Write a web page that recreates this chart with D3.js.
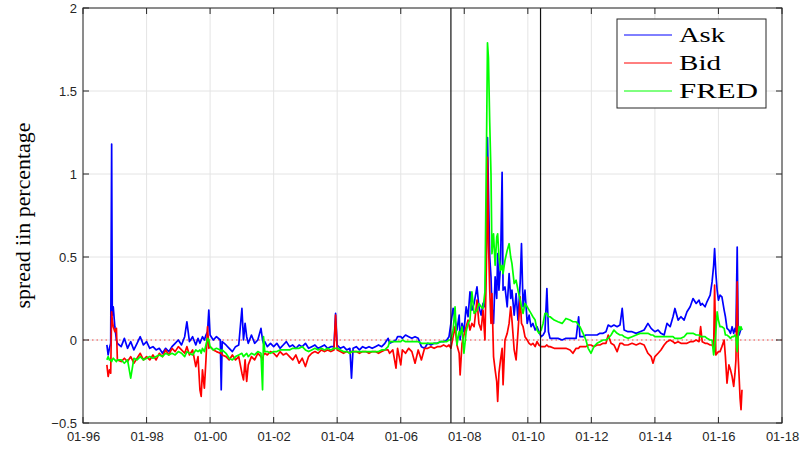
<!DOCTYPE html>
<html><head><meta charset="utf-8">
<script src="https://cdn.jsdelivr.net/npm/d3@7"></script>
<style>body{margin:0;background:#fff}svg{display:block}</style>
</head><body><svg id="c" width="803" height="450"></svg>
<script>
// decimal years
const dates = [1996.75,1996.79,1996.83,1996.87,1996.90,1996.92,1996.95,1997.00,1997.05,1997.08,
1997.2,1997.3,1997.4,1997.5,1997.6,1997.7,1997.8,1997.9,1998.0,1998.1,1998.2,1998.3,1998.4,1998.5,1998.6,1998.7,1998.8,1998.9,
1999.0,1999.1,1999.2,1999.27,1999.35,1999.45,1999.55,1999.62,1999.68,1999.72,1999.76,1999.82,1999.87,1999.92,1999.96,
2000.0,2000.1,2000.2,2000.32,2000.35,2000.38,2000.5,2000.6,2000.7,2000.8,2000.9,
2001.0,2001.05,2001.1,2001.15,2001.2,2001.3,2001.4,2001.5,2001.6,2001.65,2001.68,2001.72,2001.8,2001.9,
2002.0,2002.1,2002.2,2002.3,2002.4,2002.5,2002.6,2002.7,2002.8,2002.9,
2003.0,2003.1,2003.2,2003.3,2003.4,2003.5,2003.6,2003.7,2003.8,2003.9,2003.95,
2004.0,2004.1,2004.2,2004.3,2004.4,2004.45,2004.5,2004.6,2004.7,2004.8,2004.9,
2005.0,2005.1,2005.2,2005.3,2005.4,2005.5,2005.6,2005.65,2005.75,2005.85,2005.9,
2006.0,2006.05,2006.15,2006.25,2006.35,2006.45,2006.55,2006.65,2006.75,2006.85,2006.95,
2007.05,2007.15,2007.25,2007.35,2007.45,2007.52,
2007.58,2007.65,2007.71,2007.77,2007.84,2007.87,2007.93,2007.99,2008.06,2008.12,2008.18,2008.24,2008.31,2008.40,2008.46,2008.53,2008.59,2008.65,
2008.70,2008.73,2008.76,2008.80,2008.84,2008.87,2008.92,2008.97,2009.02,2009.05,2009.09,2009.14,2009.19,2009.22,2009.28,2009.35,2009.41,2009.46,2009.50,
2009.57,2009.63,2009.69,2009.76,2009.80,2009.85,2009.91,2009.98,2010.04,2010.10,2010.16,2010.23,2010.29,2010.35,2010.42,2010.48,2010.54,2010.60,2010.65,2010.70,
2010.83,2010.95,2011.08,2011.20,2011.33,2011.42,2011.52,2011.60,2011.64,2011.74,2011.83,2011.90,2011.99,
2012.08,2012.18,2012.27,2012.37,2012.46,2012.53,2012.62,2012.71,2012.81,2012.90,2012.97,
2013.03,2013.15,2013.28,2013.41,2013.53,2013.66,2013.78,2013.88,2013.94,
2014.00,2014.10,2014.19,2014.29,2014.38,2014.48,2014.57,2014.63,2014.73,2014.82,2014.92,
2015.01,2015.11,2015.20,2015.30,2015.39,2015.44,2015.49,2015.58,2015.64,2015.74,2015.80,2015.85,2015.88,2015.92,2015.96,
2016.00,2016.05,2016.11,2016.18,2016.22,2016.27,2016.33,2016.38,2016.43,2016.48,2016.52,2016.55,2016.59,2016.62,2016.65,2016.68,2016.71,2016.74];

const ask = [-0.03,-0.09,-0.05,-0.02,1.18,0.15,0.20,0.08,0.00,-0.02,
-0.04,0.01,-0.05,-0.01,-0.06,-0.02,0.02,-0.03,-0.01,-0.05,-0.04,-0.06,-0.05,-0.08,-0.05,-0.07,-0.04,-0.02,
0.00,-0.03,0.02,0.11,-0.01,0.02,-0.03,0.01,-0.02,0.00,0.02,0.00,0.03,0.05,0.18,
0.03,0.00,0.02,0.00,-0.30,-0.01,-0.03,-0.05,-0.07,-0.04,-0.03,
0.19,0.00,0.10,0.02,-0.02,0.03,-0.02,0.00,0.07,0.00,-0.02,-0.01,-0.04,-0.02,
-0.04,-0.02,-0.05,-0.03,-0.01,-0.04,-0.03,-0.05,-0.03,-0.04,
-0.02,-0.05,-0.04,-0.03,-0.05,-0.04,-0.03,-0.05,-0.04,-0.04,0.16,
-0.03,-0.05,-0.04,-0.06,-0.05,-0.23,-0.05,-0.04,-0.06,-0.04,-0.05,
-0.04,-0.05,-0.04,-0.03,-0.04,-0.02,0.01,-0.02,-0.01,0.00,0.02,
0.02,0.01,0.03,0.02,0.01,0.02,0.01,-0.04,-0.05,-0.02,-0.03,
-0.02,-0.02,-0.01,-0.01,0.00,0.02,
0.10,0.19,0.12,0.06,0.15,0.00,0.10,0.05,0.20,0.14,0.29,0.18,0.22,0.32,0.20,0.15,0.22,0.20,
0.60,1.22,0.90,0.50,0.38,0.20,0.10,0.38,0.25,0.52,0.30,0.45,1.01,0.30,0.32,0.20,0.40,0.25,0.30,
0.15,0.28,0.12,0.35,0.58,0.20,0.30,0.10,0.15,0.08,0.10,0.06,0.08,0.05,0.02,0.03,0.05,0.31,0.05,0.01,
0.01,0.01,0.00,0.01,0.01,0.01,0.01,0.14,0.02,0.02,0.03,0.03,0.03,
0.03,0.03,0.04,0.04,0.05,0.09,0.08,0.09,0.08,0.09,0.19,
0.06,0.05,0.05,0.04,0.05,0.06,0.10,0.07,0.06,
0.05,0.06,0.04,0.03,0.10,0.08,0.14,0.19,0.12,0.14,0.12,
0.17,0.20,0.25,0.22,0.24,0.21,0.22,0.20,0.23,0.27,0.35,0.45,0.55,0.40,0.30,
0.24,0.27,0.26,0.18,0.14,0.07,0.06,0.04,0.08,0.04,0.07,0.05,0.56,0.05,0.03,0.05,0.07,0.06];

const bid = [-0.15,-0.22,-0.18,-0.20,0.17,0.12,0.08,0.05,0.07,-0.12,
-0.13,-0.11,-0.13,-0.10,-0.14,-0.11,-0.08,-0.12,-0.10,-0.12,-0.09,-0.12,-0.08,-0.10,-0.06,-0.09,-0.05,-0.07,
-0.04,-0.06,-0.08,-0.04,-0.09,-0.06,-0.16,-0.10,-0.30,-0.34,-0.18,-0.29,-0.12,0.08,-0.05,
-0.04,-0.06,-0.07,-0.08,-0.07,-0.09,-0.10,-0.12,-0.09,-0.12,-0.10,
-0.20,-0.24,-0.12,-0.25,-0.15,-0.10,-0.12,-0.08,-0.10,-0.12,-0.09,-0.08,-0.09,-0.07,
-0.08,-0.10,-0.07,-0.09,-0.08,-0.10,-0.12,-0.09,-0.14,-0.11,
-0.16,-0.10,-0.08,-0.07,-0.08,-0.06,-0.07,-0.06,-0.07,-0.06,0.15,
-0.06,-0.07,-0.08,-0.07,-0.08,-0.07,-0.07,-0.07,-0.08,-0.07,-0.07,
-0.08,-0.07,-0.07,-0.08,-0.07,-0.06,-0.06,-0.08,-0.06,-0.17,-0.05,
-0.15,-0.06,-0.08,-0.05,-0.07,-0.14,-0.06,-0.12,-0.05,-0.05,-0.04,
-0.05,-0.04,-0.04,-0.03,-0.04,-0.03,
-0.05,0.02,0.08,-0.03,-0.08,-0.21,-0.02,0.03,0.08,0.12,0.06,0.10,0.08,0.24,0.10,0.06,0.18,0.00,
0.50,1.10,0.60,0.30,0.10,0.28,-0.10,-0.18,-0.25,-0.37,-0.20,-0.12,-0.05,-0.27,0.00,0.04,0.10,0.20,0.12,
-0.06,-0.12,0.05,0.26,0.10,0.08,0.02,0.00,-0.02,-0.03,-0.02,-0.04,-0.01,-0.03,-0.04,-0.04,-0.04,-0.03,-0.04,-0.04,
-0.05,-0.05,-0.05,-0.05,-0.06,-0.08,-0.05,-0.05,-0.04,-0.04,-0.04,-0.03,-0.03,
-0.04,-0.03,-0.03,-0.02,-0.02,0.03,-0.02,-0.03,-0.07,-0.02,-0.02,
-0.03,-0.03,-0.02,-0.03,-0.02,-0.03,-0.08,-0.10,-0.14,
-0.10,-0.08,-0.06,-0.03,-0.01,0.00,-0.01,-0.02,-0.01,-0.02,-0.02,
-0.02,-0.01,-0.01,0.00,-0.01,0.08,-0.01,-0.02,-0.02,-0.03,-0.03,-0.05,0.33,-0.09,-0.08,
-0.07,-0.07,-0.04,0.00,-0.10,-0.26,-0.15,-0.18,-0.22,-0.28,-0.20,-0.12,0.35,-0.10,-0.22,-0.35,-0.42,-0.30];

const fred = [-0.12,-0.10,-0.12,-0.12,-0.13,-0.12,-0.11,-0.12,-0.13,-0.12,
-0.12,-0.14,-0.12,-0.23,-0.11,-0.12,-0.10,-0.12,-0.11,-0.10,-0.11,-0.10,-0.09,-0.10,-0.08,-0.09,-0.08,-0.09,
-0.07,-0.08,-0.10,-0.07,-0.08,-0.09,-0.06,-0.07,-0.06,-0.08,-0.05,-0.07,-0.03,0.01,0.00,
-0.04,-0.06,-0.05,-0.06,-0.07,-0.06,-0.08,-0.11,-0.12,-0.10,-0.09,
-0.08,-0.10,-0.09,-0.08,-0.10,-0.08,-0.09,-0.07,-0.08,-0.30,0.02,-0.07,-0.07,-0.08,
-0.07,-0.07,-0.06,-0.06,-0.06,-0.06,-0.05,-0.05,-0.05,-0.04,
-0.06,-0.07,-0.06,-0.05,-0.06,-0.05,-0.06,-0.05,-0.06,-0.05,-0.05,
-0.05,-0.06,-0.07,-0.07,-0.08,-0.07,-0.07,-0.07,-0.07,-0.07,-0.07,
-0.07,-0.07,-0.07,-0.07,-0.06,-0.06,-0.04,-0.01,-0.01,-0.01,-0.01,
-0.01,0.00,-0.01,-0.01,-0.01,-0.01,-0.01,-0.02,-0.02,-0.02,-0.02,
-0.02,-0.02,-0.01,-0.01,-0.01,0.00,
0.00,0.06,0.20,-0.03,0.05,0.03,0.08,-0.08,0.05,0.10,0.12,0.29,0.16,0.18,0.22,0.20,0.19,0.29,
1.20,1.79,1.70,1.31,1.00,0.52,0.64,0.45,0.62,0.64,0.50,0.42,0.45,0.40,0.48,0.54,0.58,0.50,0.46,
0.34,0.36,0.30,0.24,0.20,0.16,0.22,0.20,0.18,0.16,0.14,0.12,0.06,0.04,0.06,0.10,0.16,0.16,0.14,0.14,
0.12,0.11,0.10,0.13,0.12,0.11,0.11,0.09,0.08,0.04,0.00,-0.05,-0.08,
-0.04,-0.02,-0.01,0.00,0.00,0.01,0.03,0.06,0.04,0.03,0.03,
0.02,0.01,0.02,0.03,0.04,0.04,0.04,0.03,0.03,
0.02,0.02,0.02,0.02,0.02,0.02,0.02,0.01,0.01,0.01,0.02,
0.04,0.04,0.04,0.03,0.03,0.02,0.02,0.02,0.01,0.00,0.00,-0.09,-0.05,0.05,0.17,
0.12,0.08,0.08,0.07,0.03,0.03,0.02,0.01,0.02,0.02,0.03,0.02,-0.07,0.02,0.08,0.06,0.08,0.06];

const seriesNames = ["Ask","Bid","FRED"];
const seriesColors = ["#0000ff","#ff0000","#00ff00"];
const eventDates = [2007.58, 2010.40];
const xTickYears = [1996,1998,2000,2002,2004,2006,2008,2010,2012,2014,2016,2018];
const yTicks = [-0.5,0,0.5,1,1.5,2];

function toDate(t){
  const y = Math.floor(t), f = t - y;
  const a = Date.UTC(y,0,1), b = Date.UTC(y+1,0,1);
  return new Date(a + f*(b-a));
}

const svg = d3.select("#c");
const L=83, R=782, T=8, B=423;
const axisColor = "#262626";
const x = d3.scaleUtc().domain([toDate(1996), toDate(2018)]).range([L,R]);
const y = d3.scaleLinear().domain([-0.5,2]).range([B,T]);

// grid
const g = svg.append("g");
g.selectAll(".gx").data(xTickYears).join("line")
  .attr("x1",d=>x(toDate(d))).attr("x2",d=>x(toDate(d))).attr("y1",T).attr("y2",B)
  .attr("stroke","#e4e4e4").attr("stroke-width",1);
g.selectAll(".gy").data(yTicks).join("line")
  .attr("x1",L).attr("x2",R).attr("y1",d=>y(d)).attr("y2",d=>y(d))
  .attr("stroke","#e4e4e4").attr("stroke-width",1);

// zero reference
svg.append("line").attr("x1",L).attr("x2",R).attr("y1",y(0)).attr("y2",y(0))
  .attr("stroke","#ff0000").attr("stroke-width",1).attr("stroke-dasharray","1.5,3").attr("opacity",0.7);

svg.append("clipPath").attr("id","clip").append("rect").attr("x",L).attr("y",T).attr("width",R-L).attr("height",B-T);

const data = [ask,bid,fred];
const line = d3.line().x((d,i)=>x(toDate(dates[i]))).y(d=>y(d));
const lg = svg.append("g").attr("clip-path","url(#clip)");
data.forEach((s,k)=>{
  lg.append("path").attr("d",line(s)).attr("fill","none")
    .attr("stroke",seriesColors[k]).attr("stroke-width",1.7).attr("stroke-linejoin","round");
});

// event lines
svg.selectAll(".ev").data(eventDates).join("line")
  .attr("x1",d=>x(toDate(d))).attr("x2",d=>x(toDate(d))).attr("y1",T).attr("y2",B)
  .attr("stroke","#111").attr("stroke-width",1.2);

// axes
const xa = d3.axisBottom(x).tickValues(xTickYears.map(toDate)).tickFormat(d3.utcFormat("%m-%y")).tickSize(0).tickPadding(9);
const gx = svg.append("g").attr("transform",`translate(0,${B})`).call(xa);
gx.select(".domain").remove();
gx.selectAll("text").attr("fill",axisColor).style("font-family","Liberation Sans, Arial, sans-serif").style("font-size","13px");

const ya = d3.axisLeft(y).tickValues(yTicks).tickFormat(d=>d3.format("")(d)).tickSize(0).tickPadding(6);
const gy = svg.append("g").attr("transform",`translate(${L},0)`).call(ya);
gy.select(".domain").remove();
gy.selectAll("text").attr("fill",axisColor).style("font-family","Liberation Sans, Arial, sans-serif").style("font-size","13px");

// inward tick marks on all sides
const tk = svg.append("g").attr("stroke",axisColor).attr("stroke-width",1);
xTickYears.forEach(d=>{
  const xx = x(toDate(d));
  tk.append("line").attr("x1",xx).attr("x2",xx).attr("y1",B).attr("y2",B-6);
  tk.append("line").attr("x1",xx).attr("x2",xx).attr("y1",T).attr("y2",T+6);
});
yTicks.forEach(d=>{
  const yy = y(d);
  tk.append("line").attr("x1",L).attr("x2",L+6).attr("y1",yy).attr("y2",yy);
  tk.append("line").attr("x1",R).attr("x2",R-6).attr("y1",yy).attr("y2",yy);
});
svg.append("rect").attr("x",L).attr("y",T).attr("width",R-L).attr("height",B-T)
  .attr("fill","none").attr("stroke",axisColor).attr("stroke-width",1);

// y label
svg.append("text").attr("transform",`translate(30,${(T+B)/2}) rotate(-90)`)
  .attr("text-anchor","middle").attr("fill","#000")
  .style("font-family","Liberation Serif, Times New Roman, serif").style("font-size","21px")
  .attr("textLength",186).attr("lengthAdjust","spacingAndGlyphs")
  .text("spread iin percentage");

// legend
const leg = svg.append("g");
leg.append("rect").attr("x",617).attr("y",19).attr("width",149).attr("height",89)
  .attr("fill","#fff").attr("stroke",axisColor).attr("stroke-width",1);
const legW = [46,42,79];
seriesNames.forEach((n,i)=>{
  const yy = 35 + i*28;
  leg.append("line").attr("x1",624).attr("x2",672).attr("y1",yy).attr("y2",yy)
    .attr("stroke",seriesColors[i]).attr("stroke-width",1);
  leg.append("text").attr("x",679).attr("y",yy+7).attr("fill","#000")
    .style("font-family","Liberation Serif, Times New Roman, serif").style("font-size","22px")
    .attr("textLength",legW[i]).attr("lengthAdjust","spacingAndGlyphs").text(n);
});
</script></body></html>
